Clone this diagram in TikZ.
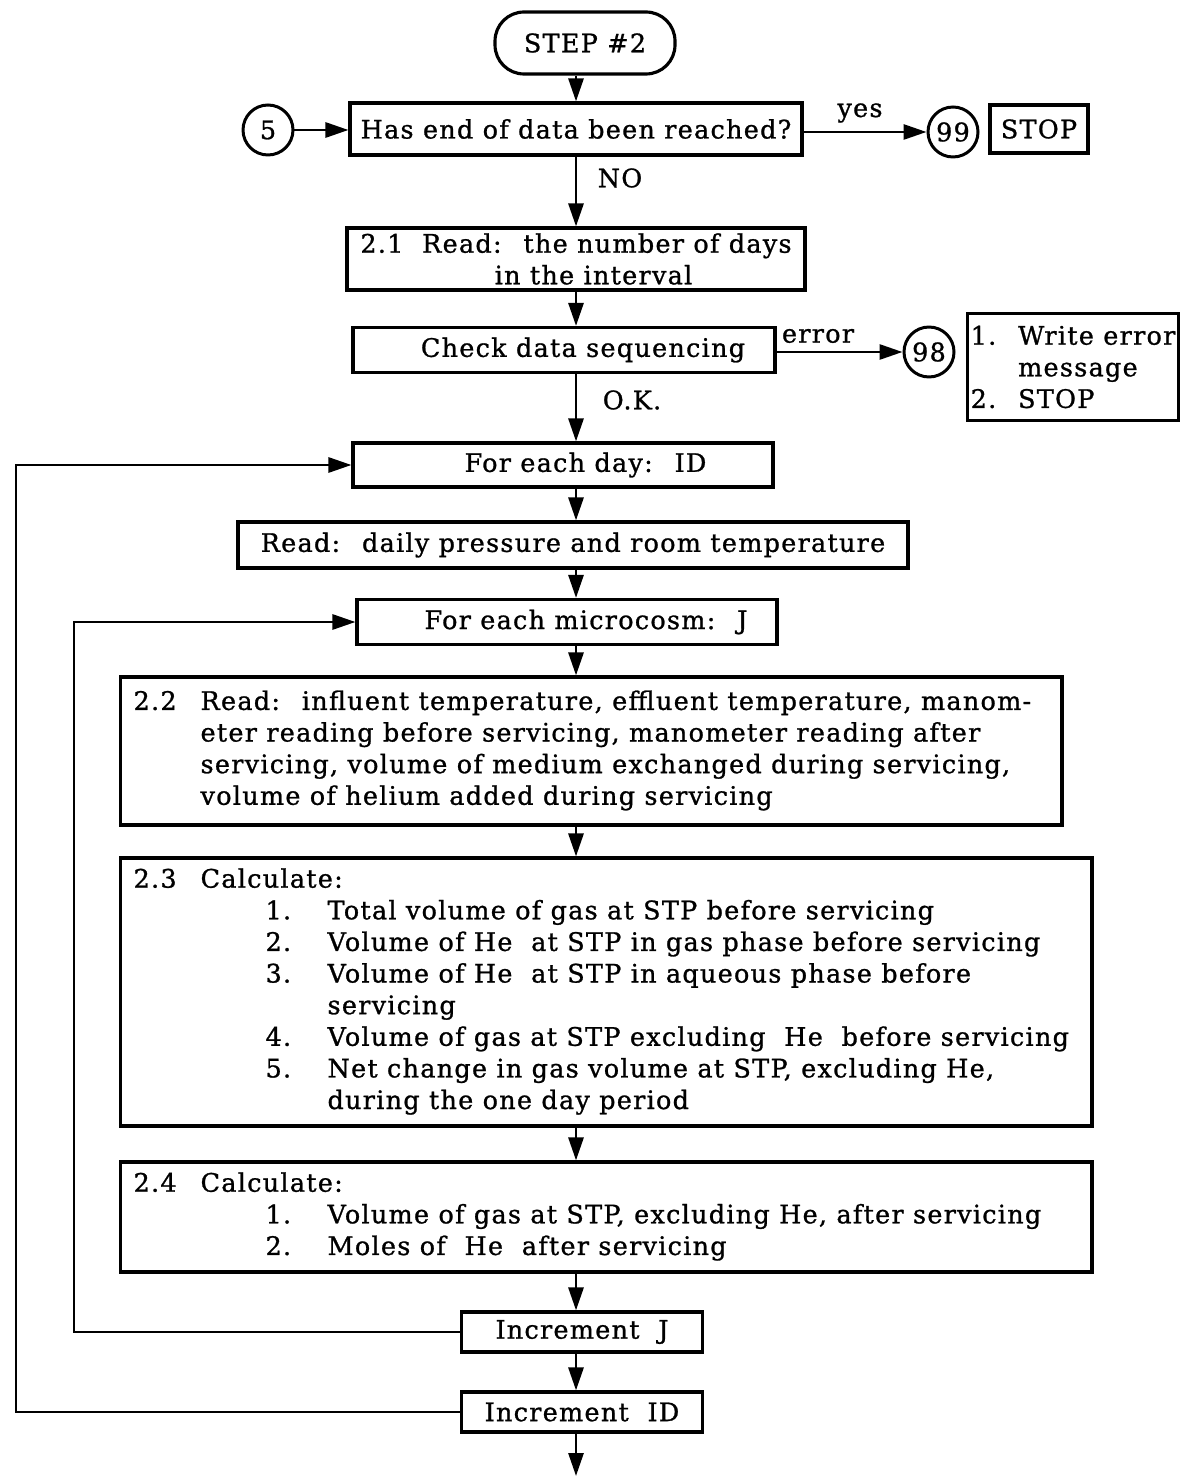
\documentclass[tikz,border=0pt]{standalone}
\usepackage{fontspec}
\setmainfont{DejaVu Serif}[LetterSpace=5,FakeBold=1]
\usetikzlibrary{positioning,arrows.meta,calc}

\newcommand{\calcitem}[1]{\hspace*{2.64cm}\makebox[1.24cm][l]{#1}}
\newcommand{\stepnum}[1]{\makebox[1.34cm][l]{#1}}
\newcommand{\textblock}[2]{\makebox[#1][l]{\begin{tabular}{@{}l@{}}#2\end{tabular}}}

\begin{document}
\begin{tikzpicture}[
                x=0.02cm, y=-0.02cm,
                font=\fontsize{14.5}{18}\selectfont,
                procbox/.style={
                    draw,
                    line width=1.8pt,
                    inner sep=0pt,
                    align=center
                },
                terminal/.style={procbox, rounded corners=0.58cm},
                connector/.style={draw, circle, line width=1.7pt, minimum size=1cm, inner sep=0pt},
                arrow/.style={-{Triangle[length=4.6mm,width=3mm]}, line width=1.6pt},
                flowline/.style={line width=1.6pt}
            ]
                \useasboundingbox (0,0) rectangle (1184,1479);
                \coordinate (axis) at (576,0);
                \coordinate (outerx) at (16,0);
                \coordinate (innerx) at (74,0);

                \node[terminal, minimum width=3.6cm, minimum height=1.24cm] (start) at (585,43) {\raisebox{-0.16cm}{STEP \#2}};
                \node[connector] (c5) at (268,130) {5};
                \node[procbox, minimum width=9.04cm, minimum height=1.04cm] (endq) at (576,129) {Has end of data been reached?};
                \node[connector] (c99) at (953,132) {99};
                \node[procbox, minimum width=1.96cm, minimum height=0.96cm] (stop) at (1039,129) {STOP};
                \node[procbox, minimum width=9.16cm, minimum height=1.24cm] (read21) at (576,259) {2.1~ Read:~ the number of days\\ \hspace*{0.7cm}in the interval};
                \node[procbox, minimum width=8.44cm, minimum height=0.9cm] (check) at (564,350) {\hspace*{0.76cm}Check data sequencing};
                \node[connector] (c98) at (929,352) {98};
                \node[procbox, align=left, minimum width=4.22cm, minimum height=2.14cm] (errmsg) at (1073,367) {1.~ Write error\\ \phantom{1.~ }message\\ 2.~ STOP};
                \node[procbox, minimum width=8.4cm, minimum height=0.88cm] (day) at (563,465) {\hspace*{0.9cm}For each day:~ ID};
                \node[procbox, minimum width=13.4cm, minimum height=0.92cm] (rdaily) at (573,545) {Read:~ daily pressure and room temperature};
                \node[procbox, minimum width=8.4cm, minimum height=0.9cm] (micro) at (567,622) {\hspace*{0.76cm}For each microcosm:~ J};
                \node[procbox, minimum width=18.84cm, minimum height=2.96cm] (read22) at (591,751) {\textblock{18.3cm}{\stepnum{2.2}Read:~ influent temperature, effluent temperature, manom-\\
                    \hspace*{1.34cm}eter reading before servicing, manometer reading after\\
                    \hspace*{1.34cm}servicing, volume of medium exchanged during servicing,\\
                    \hspace*{1.34cm}volume of helium added during servicing}};
                \node[procbox, minimum width=19.44cm, minimum height=5.36cm] (calc23) at (606,992) {\textblock{18.9cm}{\stepnum{2.3}Calculate:\\
                    \calcitem{1.}Total volume of gas at STP before servicing\\
                    \calcitem{2.}Volume of He~ at STP in gas phase before servicing\\
                    \calcitem{3.}Volume of He~ at STP in aqueous phase before\\
                    \hspace*{3.88cm}servicing\\
                    \calcitem{4.}Volume of gas at STP excluding~ He~ before servicing\\
                    \calcitem{5.}Net change in gas volume at STP, excluding He,\\
                    \hspace*{3.88cm}during the one day period}};
                \node[procbox, minimum width=19.44cm, minimum height=2.2cm] (calc24) at (606,1217) {\textblock{18.9cm}{\stepnum{2.4}Calculate:\\
                    \calcitem{1.}Volume of gas at STP, excluding He, after servicing\\
                    \calcitem{2.}Moles of~ He~ after servicing}};
                \node[procbox, minimum width=4.82cm, minimum height=0.8cm] (incj) at (582,1332) {Increment~ J};
                \node[procbox, minimum width=4.82cm, minimum height=0.8cm] (incid) at (582,1412) {Increment~ ID};
                \coordinate (out) at (576,1476);

                \node (yeslbl) at (860,113) {yes};
                \node (nolbl) at (620,178) {NO};
                \node (errlbl) at (818,336) {error};
                \node (oklbl) at (632,400) {O.K.};

                \draw[arrow] (start.south -| axis) -- (endq.north -| axis);
                \draw[arrow] (c5.east) -- (c5.east -| endq.west);
                \draw[arrow] (endq.east |- c99) -- (c99.west);
                \draw[arrow] (endq.south -| axis) -- (read21.north -| axis);
                \draw[arrow] (read21.south -| axis) -- (check.north -| axis);
                \draw[arrow] (check.east |- c98) -- (c98.west);
                \draw[arrow] (check.south -| axis) -- (day.north -| axis);
                \draw[arrow] (day.south -| axis) -- (rdaily.north -| axis);
                \draw[arrow] (rdaily.south -| axis) -- (micro.north -| axis);
                \draw[arrow] (micro.south -| axis) -- (read22.north -| axis);
                \draw[arrow] (read22.south -| axis) -- (calc23.north -| axis);
                \draw[arrow] (calc23.south -| axis) -- (calc24.north -| axis);
                \draw[arrow] (calc24.south -| axis) -- (incj.north -| axis);
                \draw[arrow] (incj.south -| axis) -- (incid.north -| axis);
                \draw[arrow] (incid.south -| axis) -- (out);
                \draw[arrow] (incj.west) -- (incj.west -| innerx) |- (micro.west);
                \draw[arrow] (incid.west) -- (incid.west -| outerx) |- (day.west);
            \end{tikzpicture}
\end{document}
